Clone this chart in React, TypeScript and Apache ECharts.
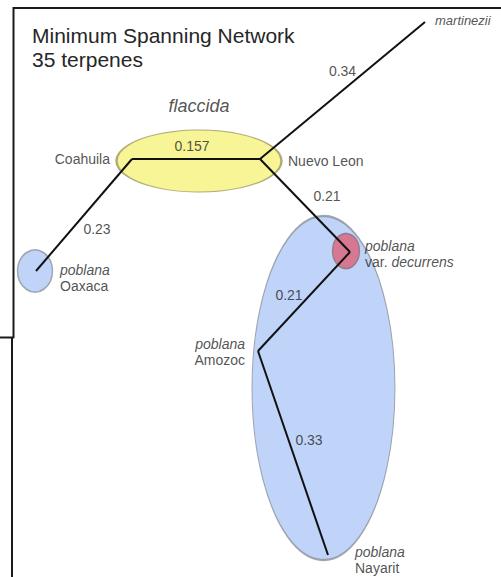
import React, { useEffect, useRef } from "react";
import * as echarts from "echarts";

// Network layout (layout coordinates, y grows downward)
const nodeNames = ["Coahuila", "Nuevo Leon", "martinezii", "Oaxaca", "decurrens", "Amozoc", "Nayarit"];
const nodeX = [132, 260, 425, 36, 350, 258, 328];
const nodeY = [159, 159, 22, 271, 252, 351, 555];

// Minimum spanning network edges
const edgeSources = ["Coahuila", "Nuevo Leon", "Coahuila", "Nuevo Leon", "decurrens", "Amozoc"];
const edgeTargets = ["Nuevo Leon", "martinezii", "Oaxaca", "decurrens", "Amozoc", "Nayarit"];
const edgeWeights = ["0.157", "0.34", "0.23", "0.21", "0.21", "0.33"];

// Groups (ellipses) in layout coordinates
const groupNames = ["poblana", "decurrens", "flaccida", "Oaxaca"];
const groupX = [323.5, 346, 199, 35];
const groupY = [388, 251, 161, 271];

const TITLE = "Minimum Spanning Network\n35 terpenes";

// ---------- styles ----------
const FONT = "Liberation Sans, Arial, sans-serif";
const TEXT = "#262626";
const groupStyle: Record<string, any> = {
  poblana: { size: [143, 344], fill: "#b0c9f7", stroke: "#8c919a" },
  decurrens: { size: [27, 35], fill: "#dc6079", stroke: "#8a7282" },
  flaccida: { size: [165, 62], fill: "#f6f27c", stroke: "#9c9862" },
  Oaxaca: { size: [35, 42], fill: "#b0c9f7", stroke: "#8c919a" },
};
const edgeLabelOffset = [[-4, -13], [0, -20], [13, 14], [22, -10], [-15, -7], [16, -13]];
const nodeLabelStyle: Record<string, any> = {
  Coahuila: { text: "{n|Coahuila}", position: "left", distance: 22, offset: [0, 0] },
  "Nuevo Leon": { text: "{n|Nuevo Leon}", position: "right", distance: 28, offset: [0, 2] },
  martinezii: { text: "{s|martinezii}", position: "right", distance: 10, offset: [0, -2] },
  Oaxaca: { text: "{i|poblana}\n{n|Oaxaca}", position: "right", distance: 24, offset: [0, 7] },
  decurrens: { text: "{i|poblana}\n{n|var. }{i|decurrens}", position: "right", distance: 15, offset: [0, 2] },
  Amozoc: { text: "{i|poblana}\n{n|Amozoc}", position: "left", distance: 13, offset: [0, 1] },
  Nayarit: { text: "{i|poblana}\n{n|Nayarit}", position: "right", distance: 27, offset: [0, 5] },
};
const rich = {
  n: { fontSize: 14, fontFamily: FONT, color: TEXT, lineHeight: 16 },
  i: { fontSize: 14, fontFamily: FONT, color: TEXT, fontStyle: "italic", lineHeight: 16 },
  s: { fontSize: 13, fontFamily: FONT, color: TEXT, fontStyle: "italic", lineHeight: 16 },
};

export default function App() {
  const ref = useRef<HTMLDivElement>(null);
  useEffect(() => {
    if (!ref.current) return;
    const chart = echarts.init(ref.current, undefined, { renderer: "svg" });
    const idx = (n: string) => nodeNames.indexOf(n);
    const pos = (n: string) => [nodeX[idx(n)], nodeY[idx(n)]];

    const groupData = groupNames.map((g, i) => ({
      name: g,
      value: [groupX[i], groupY[i]],
      symbolSize: groupStyle[g].size,
      itemStyle: { color: groupStyle[g].fill, borderColor: groupStyle[g].stroke, borderWidth: 1.5 },
      label:
        g === "flaccida"
          ? { show: true, position: "top", distance: 15, formatter: "flaccida", fontSize: 18, fontStyle: "italic", fontFamily: FONT, color: TEXT }
          : { show: false },
    }));

    const edgeLines = edgeSources.map((s, i) => ({ coords: [pos(s), pos(edgeTargets[i])] }));
    const edgeLabels = edgeSources.map((s, i) => {
      const a = pos(s);
      const b = pos(edgeTargets[i]);
      return {
        value: [(a[0] + b[0]) / 2 + edgeLabelOffset[i][0], (a[1] + b[1]) / 2 + edgeLabelOffset[i][1]],
        label: { formatter: edgeWeights[i] },
      };
    });

    const nodeLabels = nodeNames.map((n, i) => ({
      value: [nodeX[i], nodeY[i]],
      label: {
        show: true,
        formatter: nodeLabelStyle[n].text,
        position: nodeLabelStyle[n].position,
        distance: nodeLabelStyle[n].distance,
        offset: nodeLabelStyle[n].offset,
        rich,
      },
    }));

    chart.setOption({
      animation: false,
      backgroundColor: "#ffffff",
      title: {
        text: TITLE,
        left: 27,
        top: 18,
        textStyle: { fontSize: 21, fontWeight: "normal", fontFamily: FONT, color: TEXT, lineHeight: 24 },
      },
      grid: { left: 0, right: 0, top: 0, bottom: 0 },
      xAxis: { type: "value", min: 0, max: 501, show: false },
      yAxis: { type: "value", min: 0, max: 577, inverse: true, show: false },
      graphic: [
        { type: "line", shape: { x1: 13, y1: 8, x2: 501, y2: 8 }, style: { stroke: "#1a1a1a", lineWidth: 2 }, z: 100 },
        { type: "line", shape: { x1: 13.5, y1: 7, x2: 13.5, y2: 338 }, style: { stroke: "#1a1a1a", lineWidth: 2 }, z: 100 },
        { type: "line", shape: { x1: 0, y1: 337.5, x2: 14, y2: 337.5 }, style: { stroke: "#1a1a1a", lineWidth: 2 }, z: 100 },
        { type: "line", shape: { x1: 12, y1: 337, x2: 12, y2: 577 }, style: { stroke: "#1a1a1a", lineWidth: 2 }, z: 100 },
      ],
      series: [
        {
          type: "scatter",
          symbol: "circle",
          data: groupData,
          z: 1,
          silent: true,
        },
        {
          type: "lines",
          coordinateSystem: "cartesian2d",
          data: edgeLines,
          lineStyle: { color: "#111111", width: 2, opacity: 1 },
          z: 3,
          silent: true,
        },
        {
          type: "scatter",
          symbolSize: 0,
          data: edgeLabels,
          label: { show: true, position: "inside", fontSize: 14, fontFamily: FONT, color: TEXT },
          z: 4,
          silent: true,
        },
        {
          type: "scatter",
          symbolSize: 0,
          data: nodeLabels,
          z: 4,
          silent: true,
        },
      ],
    });
    return () => chart.dispose();
  }, []);
  return <div ref={ref} style={{ position: "fixed", left: 0, top: 0, width: 501, height: 577 }} />;
}
